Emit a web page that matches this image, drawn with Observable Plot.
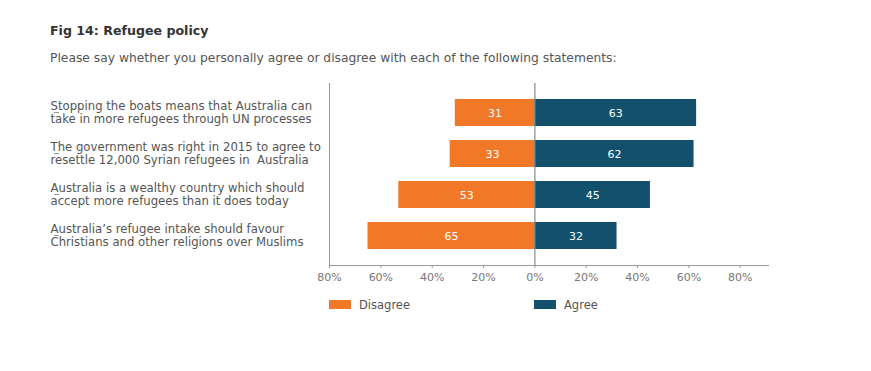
<!DOCTYPE html>
<html>
<head>
<meta charset="utf-8">
<script src="https://cdn.jsdelivr.net/npm/d3@7"></script>
<script src="https://cdn.jsdelivr.net/npm/@observablehq/plot@0.6"></script>
<style>
  html, body { margin: 0; padding: 0; background: #fff; }
  #wrap { position: relative; width: 871px; height: 371px; font-family: "DejaVu Sans", sans-serif; }
  .abs { position: absolute; white-space: nowrap; }
  #title { left: 50px; top: 24.5px; font-size: 12.6px; line-height: 12.6px; font-weight: bold; color: #333; }
  #subtitle { left: 50px; top: 51.5px; font-size: 12.3px; line-height: 12.3px; color: #555; }
  #chart { position: absolute; left: 0; top: 75px; }
  .sw { position: absolute; width: 22px; height: 9px; }
  .lt { position: absolute; font-size: 11.5px; line-height: 12px; color: #555; }
</style>
</head>
<body>
<div id="wrap">
  <div id="title" class="abs">Fig 14: Refugee policy</div>
  <div id="subtitle" class="abs">Please say whether you personally agree or disagree with each of the following statements:</div>
  <div id="chart"></div>
  <div id="legend"></div>
</div>
<script>
const statements = [
  "Stopping the boats means that Australia can\ntake in more refugees through UN processes",
  "The government was right in 2015 to agree to\nresettle 12,000 Syrian refugees in  Australia",
  "Australia is a wealthy country which should\naccept more refugees than it does today",
  "Australia’s refugee intake should favour\nChristians and other religions over Muslims"
];
const responses = ["Disagree", "Agree"];
const disagree = [31, 33, 53, 65];
const agree = [63, 62, 45, 32];
const xTicks = [-80, -60, -40, -20, 0, 20, 40, 60, 80];
const colors = ["#F07826", "#12506B"];

const rows = [];
statements.forEach((s, i) => {
  rows.push({statement: s, response: "Disagree", value: -disagree[i], label: disagree[i]});
  rows.push({statement: s, response: "Agree", value: agree[i], label: agree[i]});
});

const chart = Plot.plot({
  width: 871,
  height: 215,
  marginTop: 8,
  marginBottom: 25,
  marginLeft: 329,
  marginRight: 103,
  style: {fontFamily: "DejaVu Sans, sans-serif", background: "transparent"},
  x: {domain: [-80, 91]},
  y: {domain: statements, padding: 0.35},
  color: {domain: responses, range: colors},
  marks: [
    Plot.barX(rows, {x: "value", y: "statement", fill: "response"}),
    Plot.text(rows, {x: d => d.value / 2, y: "statement", text: "label", fill: "white", fontSize: 11}),
    Plot.ruleX([0], {stroke: "#888", strokeWidth: 1.2}),
    Plot.ruleX([-80], {stroke: "#999"}),
    Plot.frame({anchor: "bottom", stroke: "#999"}),
    Plot.axisX({ticks: xTicks, tickFormat: d => Math.abs(d) + "%", tickSize: 3, tickPadding: 5, stroke: "#999", fill: "#777", fontSize: 11, label: null}),
    Plot.axisY({tickSize: 5, stroke: "#999", fill: "#555", fontSize: 11.7, lineHeight: 1.08, textAnchor: "start", dx: -270, dy: -0.5, label: null})
  ]
});
document.getElementById("chart").appendChild(chart);

const legend = document.getElementById("legend");
const legendX = [329, 534];
responses.forEach((r, i) => {
  const sw = document.createElement("div");
  sw.className = "sw";
  sw.style.left = legendX[i] + "px";
  sw.style.top = "299.5px";
  sw.style.background = colors[i];
  legend.appendChild(sw);
  const t = document.createElement("div");
  t.className = "lt";
  t.style.left = (legendX[i] + 30) + "px";
  t.style.top = "298.5px";
  t.textContent = r;
  legend.appendChild(t);
});
</script>
</body>
</html>
